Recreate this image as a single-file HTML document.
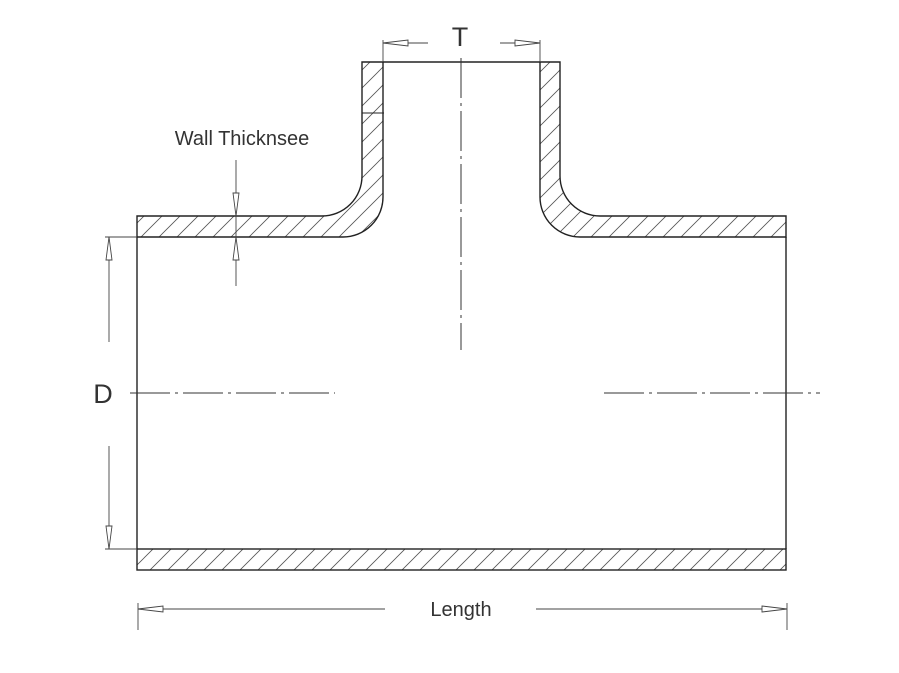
<!DOCTYPE html>
<html><head><meta charset="utf-8"><style>html,body{margin:0;padding:0;background:#fff}svg{display:block}</style></head>
<body>
<svg width="899" height="673" viewBox="0 0 899 673" xmlns="http://www.w3.org/2000/svg" font-family="Liberation Sans, sans-serif">
<defs>
<pattern id="h" patternUnits="userSpaceOnUse" width="18" height="18">
<path d="M-2,2 L2,-2 M0,18 L18,0 M16,20 L20,16" stroke="#555" stroke-width="0.8" fill="none"/>
</pattern>
</defs>
<g stroke="#222" stroke-width="1.4" fill="url(#h)">
<path d="M137,216 L322,216 A40,40 0 0 0 362,176 L362,62 L383,62 L383,197 A40,40 0 0 1 343,237 L137,237 Z"/>
<path d="M786,216 L600,216 A40,40 0 0 1 560,176 L560,62 L540,62 L540,197 A40,40 0 0 0 580,237 L786,237 Z"/>
<rect x="137" y="549" width="649" height="21"/>
</g>
<g stroke="#222" stroke-width="1.4" fill="none">
<line x1="383" y1="62" x2="540" y2="62"/>
<line x1="137" y1="237" x2="137" y2="549"/>
<line x1="786" y1="237" x2="786" y2="549"/>
<line x1="362" y1="113" x2="384" y2="113" stroke-width="1"/>
</g>
<g stroke="#333" stroke-width="1" stroke-dasharray="40 5 3 5" fill="none">
<line x1="461" y1="58" x2="461" y2="350"/>
<line x1="130" y1="393" x2="335" y2="393"/>
<line x1="604" y1="393" x2="820" y2="393"/>
</g>
<g stroke="#444" stroke-width="0.9" fill="none">
<line x1="105" y1="237" x2="137" y2="237"/>
<line x1="105" y1="549" x2="137" y2="549"/>
<line x1="109" y1="237" x2="109" y2="342"/>
<line x1="109" y1="446" x2="109" y2="549"/>
<line x1="138" y1="603" x2="138" y2="630"/>
<line x1="787" y1="603" x2="787" y2="630"/>
<line x1="138" y1="609" x2="385" y2="609"/>
<line x1="536" y1="609" x2="787" y2="609"/>
<line x1="383" y1="40" x2="383" y2="62"/>
<line x1="540" y1="40" x2="540" y2="62"/>
<line x1="383" y1="43" x2="428" y2="43"/>
<line x1="500" y1="43" x2="540" y2="43"/>
<line x1="236" y1="160" x2="236" y2="286"/>
</g>
<g stroke="#444" stroke-width="0.9" fill="#fff">
<path d="M109,237 L106,260 L112,260 Z"/>
<path d="M109,549 L106,526 L112,526 Z"/>
<path d="M138,609 L163,606 L163,612 Z"/>
<path d="M787,609 L762,606 L762,612 Z"/>
<path d="M383,43 L408,40 L408,46 Z"/>
<path d="M540,43 L515,40 L515,46 Z"/>
<path d="M236,216 L233,193 L239,193 Z"/>
<path d="M236,237 L233,260 L239,260 Z"/>
</g>
<g fill="#333">
<text x="103" y="403" font-size="27" text-anchor="middle">D</text>
<text x="460" y="46" font-size="27" text-anchor="middle">T</text>
<text x="461" y="616" font-size="20" text-anchor="middle">Length</text>
<text x="242" y="145" font-size="20" text-anchor="middle">Wall Thicknsee</text>
</g>
</svg>
</body></html>
